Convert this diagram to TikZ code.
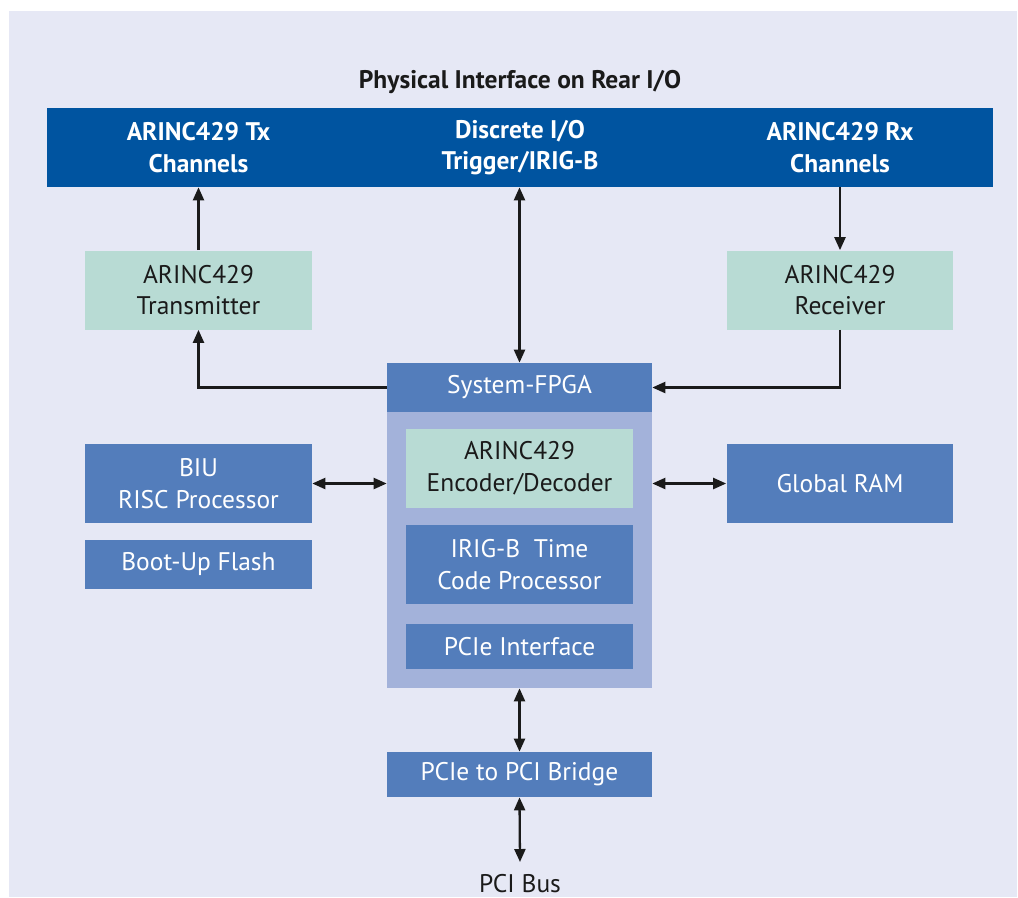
\documentclass[tikz,border=0pt]{standalone}
\usepackage{fontspec}
\setmainfont{PT Sans}
\usepackage{tikz}
\usetikzlibrary{arrows.meta, positioning, calc}

\definecolor{pageback}{RGB}{230,232,245}
\definecolor{darkblue}{RGB}{0,84,160}
\definecolor{midblue}{RGB}{83,125,187}
\definecolor{lightblue}{RGB}{163,178,218}
\definecolor{mint}{RGB}{184,219,212}
\definecolor{inkdark}{RGB}{26,26,26}

\tikzset{
  blk/.style={rectangle, inner sep=0pt, align=center, text=white,
    font=\fontsize{14.5}{18}\selectfont},
  bluebox/.style={blk, fill=midblue, minimum width=4.54cm, minimum height=1.58cm},
  mintbox/.style={blk, fill=mint, text=inkdark, minimum width=4.54cm, minimum height=1.58cm},
  slimbox/.style={blk, fill=midblue, minimum width=4.54cm, minimum height=0.94cm},
  widebox/.style={blk, fill=midblue, minimum width=5.3cm},
  link/.style={line width=1.3pt, draw=inkdark,
    -{Triangle[length=0.26cm,width=0.22cm]}},
  dlink/.style={line width=1.3pt, draw=inkdark,
    {Triangle[length=0.26cm,width=0.22cm]}-{Triangle[length=0.26cm,width=0.22cm]}},
}

\begin{document}
\begin{tikzpicture}[x=0.02cm, y=-0.02cm]
\useasboundingbox (0,0) rectangle (1018,897);
\fill[pageback] (9,11) rectangle (1017,897);

% Rear I/O
\node[font=\bfseries\fontsize{14.5}{18}\selectfont, text=inkdark] (title) at (520,82) {Physical Interface on Rear I/O};
\node[rectangle, fill=darkblue, minimum width=18.92cm, minimum height=1.58cm, inner sep=0pt] (bar) at (520,147.5) {};
\node[blk, font=\bfseries\fontsize{14.5}{18}\selectfont] (txch) at (198.5,147.5) {ARINC429 Tx\\Channels};
\node[blk, font=\bfseries\fontsize{14.5}{18}\selectfont] (dio) at (520,147.5) {Discrete I/O\\Trigger/IRIG-B};
\node[blk, font=\bfseries\fontsize{14.5}{18}\selectfont] (rxch) at (840,147.5) {ARINC429 Rx\\Channels};

% Tx / Rx
\node[mintbox] (tx) at (198.5,290) {ARINC429\\Transmitter};
\node[mintbox] (rx) at (840,290) {ARINC429\\Receiver};

% FPGA
\node[widebox, fill=lightblue, minimum height=5.52cm] (fpga) at (519.5,550) {};
\node[widebox, minimum height=0.98cm] (hdr) at (519.5,387.5) {System-FPGA};
\node[mintbox] (enc) at (519.5,468.5) {ARINC429\\Encoder/Decoder};
\node[bluebox] (irig) at (519.5,564.5) {IRIG-B\ \ Time\\Code Processor};
\node[slimbox, minimum height=0.9cm] (pcie) at (519.5,646.5) {PCIe Interface};

% side blocks
\node[bluebox] (biu) at (198.5,483.5) {BIU\\RISC Processor};
\node[slimbox, minimum height=0.98cm] (boot) at (198.5,564.5) {Boot-Up Flash};
\node[bluebox] (ram) at (840,483.5) {Global RAM};

% bus side
\node[widebox, minimum height=0.9cm] (bridge) at (519.5,774.5) {PCIe to PCI Bridge};
\node[inner sep=0pt, anchor=base, text depth=0pt, text=inkdark,
  font=\fontsize{14.5}{18}\selectfont] (bus) at (520,892) {PCI Bus};
\coordinate (busend) at (520,862);

% connectors
\draw[link] (tx.north) -- (tx.north |- bar.south);
\draw[dlink] (hdr.north) -- (hdr.north |- bar.south);
\draw[link] (rx.north |- bar.south) -- (rx.north);
\draw[link] (hdr.west) -| (tx.south);
\draw[link] (rx.south) |- (hdr.east);
\draw[dlink] (biu.east) -- (biu.east -| fpga.west);
\draw[dlink] (fpga.east |- ram.west) -- (ram.west);
\draw[dlink] (fpga.south) -- (bridge.north);
\draw[dlink] (bridge.south) -- (busend);
\end{tikzpicture}
\end{document}
